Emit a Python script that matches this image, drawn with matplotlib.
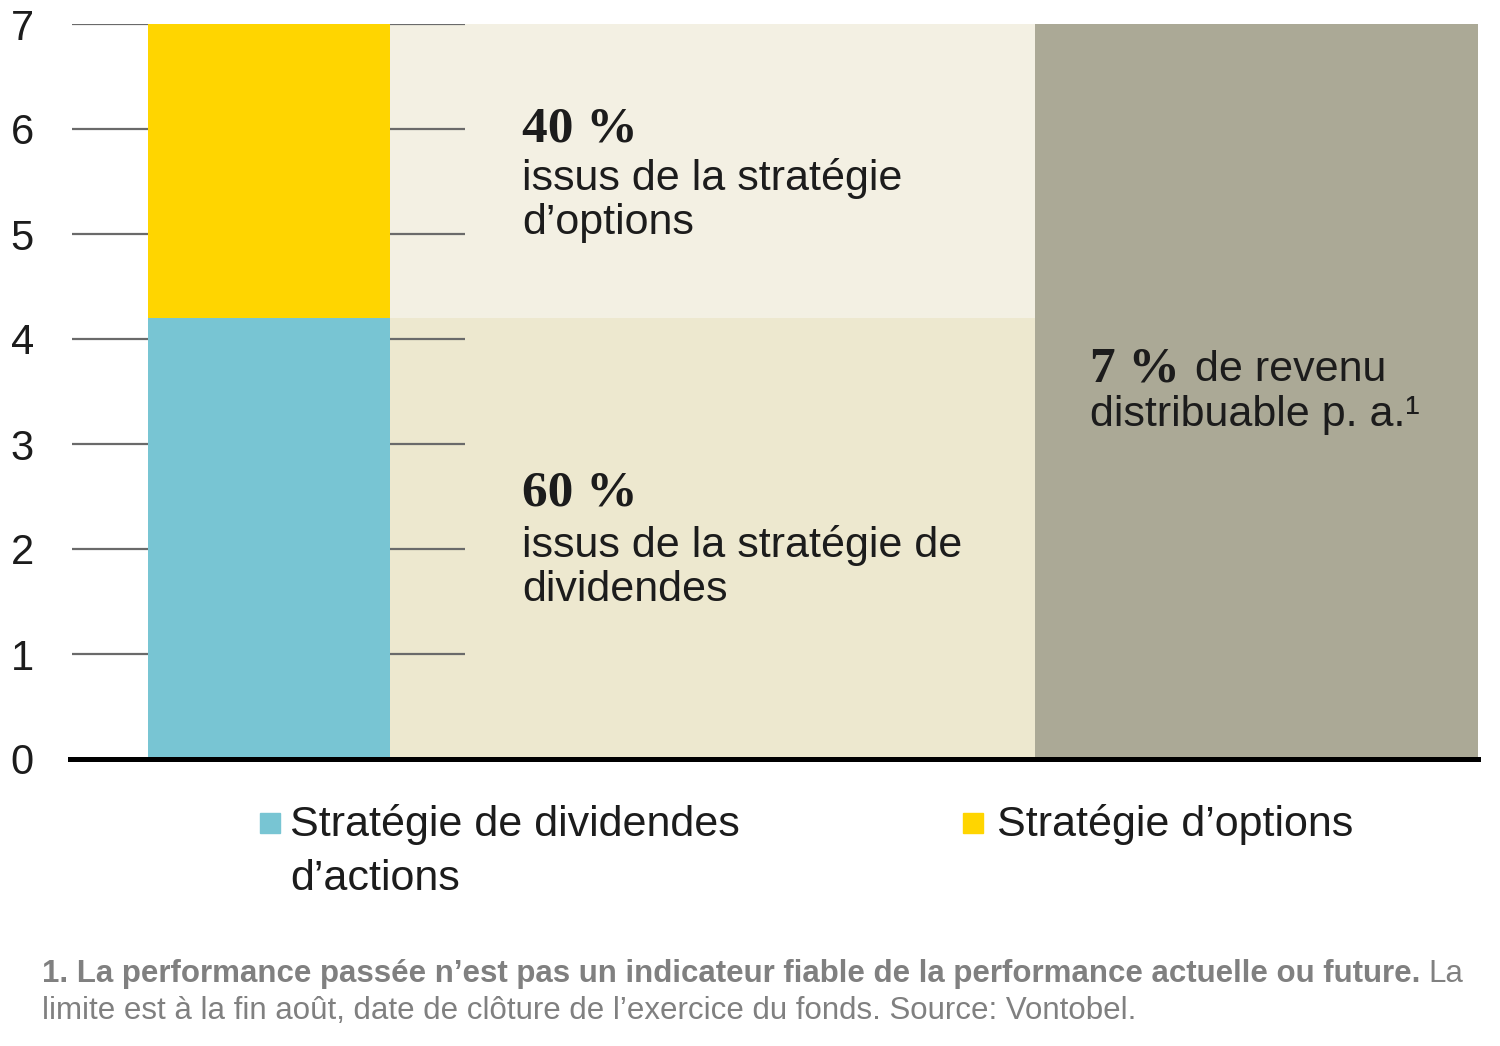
import matplotlib
matplotlib.use('Agg')
import matplotlib.pyplot as plt
from matplotlib.patches import Rectangle

plt.rcParams['font.family'] = ['Liberation Sans', 'DejaVu Sans']

# data
y_ticks = [0, 1, 2, 3, 4, 5, 6, 7]
total_income = 7          # % distributable income p.a.
dividend_part = 4.2       # 60 % of the income
option_part = 2.8         # 40 % of the income
legend_labels = [['Stratégie de dividendes', 'd’actions'], ['Stratégie d’options']]

teal = '#78C5D3'
yellow = '#FFD500'
beige_low = '#EDE8CF'
beige_high = '#F3F0E3'
grey = '#ABA996'
txt = '#1c1c1c'

W, H = 1500, 1046
def px(x, y):
    # pixel position -> figure fraction
    return x / W, 1 - y / H

fig = plt.figure(figsize=(15, 10.46), dpi=100)
ax = fig.add_axes([70 / W, 1 - 759 / H, (1478 - 70) / W, (759 - 24) / H])
ax.set_xlim(0, 1408)
ax.set_ylim(0, 7)

# background blocks
ax.bar(320, dividend_part, width=645, align='edge', color=beige_low, zorder=1)
ax.bar(320, option_part, bottom=dividend_part, width=645, align='edge', color=beige_high, zorder=1)
ax.bar(965, total_income, width=443, align='edge', color=grey, zorder=1)

# grid stubs
ax.hlines(y_ticks[1:], 2, 395, color='#6a6a6a', lw=1.6, zorder=2)

# the stacked bar
ax.bar(78, dividend_part, width=242, align='edge', color=teal, zorder=3)
ax.bar(78, option_part, bottom=dividend_part, width=242, align='edge', color=yellow, zorder=3)

ax.axhline(0, color='black', lw=3.6, zorder=5, clip_on=False)

for s in ax.spines.values():
    s.set_visible(False)
ax.set_xticks([])
ax.set_yticks(y_ticks)
ax.tick_params(axis='y', length=0, pad=26, labelsize=30, labelcolor=txt)

# block annotations
serif = dict(family='Liberation Serif', weight='bold', size=37, color=txt, va='baseline')
sans = dict(size=31, color=txt, va='baseline')

fig.text(*px(522, 141), '40 %', **serif)
fig.text(*px(522, 190), 'issus de la stratégie', **sans)
fig.text(*px(522, 234), 'd’options', **sans)

fig.text(*px(522, 506), '60 %', **serif)
fig.text(*px(522, 557), 'issus de la stratégie de', **sans)
fig.text(*px(522, 601), 'dividendes', **sans)

fig.text(*px(1090, 381), '7 %', **serif)
fig.text(*px(1195, 381), 'de revenu', **sans)
fig.text(*px(1090, 426), 'distribuable p. a.¹', **sans)

# legend
for (x0, x_txt), lines, col in zip([(260, 290), (963, 997)], legend_labels, [teal, yellow]):
    fig.patches.append(Rectangle(px(x0, 833), 20 / W, 20 / H, transform=fig.transFigure,
                                 color=col))
    for i, line in enumerate(lines):
        fig.text(*px(x_txt, 836 + 54 * i), line, size=31, color=txt, va='baseline')

# footnote
note_col = '#808080'
note_size = 22.5
t1 = fig.text(*px(42, 982), '1. La performance passée n’est pas un indicateur fiable de la '
              'performance actuelle ou future.', size=note_size, weight='bold', color=note_col,
              va='baseline')
fig.canvas.draw()
bb = t1.get_window_extent(fig.canvas.get_renderer())
fig.text((bb.x1 + 8) / W, 1 - 982 / H, 'La', size=note_size, color=note_col, va='baseline')
fig.text(*px(42, 1019), 'limite est à la fin août, date de clôture de l’exercice du fonds. '
         'Source: Vontobel.', size=note_size, color=note_col, va='baseline')

fig.savefig('out.png', dpi=100)
